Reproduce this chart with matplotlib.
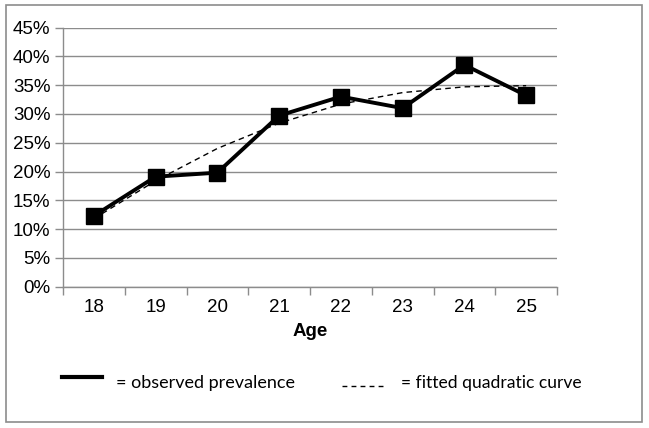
import matplotlib.pyplot as plt
from matplotlib.patches import Rectangle
from matplotlib.lines import Line2D
import numpy as np

## data
ages = [18, 19, 20, 21, 22, 23, 24, 25]
observed = [0.123, 0.191, 0.198, 0.297, 0.330, 0.310, 0.385, 0.332]
fitted = [0.118, 0.184, 0.240, 0.284, 0.317, 0.337, 0.347, 0.349]
yticks = [0, 0.05, 0.10, 0.15, 0.20, 0.25, 0.30, 0.35, 0.40, 0.45]

W, H = 649, 428
fig = plt.figure(figsize=(W / 100, H / 100), dpi=100)
ax = fig.add_axes([63 / W, 1 - 286.7 / H, (557 - 63) / W, (286.7 - 27.5) / H])

x = np.arange(len(ages))
ax.plot(x, fitted, color='black', lw=1.0, ls=(0, (4, 3)), zorder=3)
ax.plot(x, observed, color='black', lw=2.8, marker='s', markersize=11, zorder=4)

## Configure the axes (Excel look)
gray = '#8c8c8c'
ax.set_xlim(-0.5, len(ages) - 0.5)
ax.set_ylim(0, 0.45)
ax.set_yticks(yticks)
ax.set_yticklabels(['%d%%' % round(v * 100) for v in yticks],
                   fontsize=13.5, family='Liberation Sans')
ax.yaxis.grid(True, color=gray, lw=1)
ax.set_axisbelow(True)
ax.tick_params(axis='y', length=6, color=gray, width=1, pad=3)

ax.set_xticks(x)
ax.set_xticklabels([str(a) for a in ages], fontsize=13.5, family='Liberation Sans')
ax.set_xticks(np.arange(len(ages) + 1) - 0.5, minor=True)
ax.tick_params(axis='x', which='major', length=0, pad=9)
ax.tick_params(axis='x', which='minor', length=6, color=gray, width=1)
ax.set_xlabel('Age', fontsize=13.5, fontweight='bold', family='Liberation Sans', labelpad=5)

for s in ['top', 'right']:
    ax.spines[s].set_visible(False)
for s in ['left', 'bottom']:
    ax.spines[s].set_color(gray)
    ax.spines[s].set_linewidth(1)

## hand-made legend below the chart
fig.add_artist(Line2D([62 / W, 102 / W], [1 - 377 / H] * 2, color='black', lw=3))
fig.text(116 / W, 1 - 383 / H, '= observed prevalence', fontsize=13, family='Lato',
         va='center', ha='left')
fig.add_artist(Line2D([342 / W, 383 / W], [1 - 386 / H] * 2, color='black', lw=1,
                      ls=(0, (3.5, 3))))
fig.text(401 / W, 1 - 383 / H, '= fitted quadratic curve', fontsize=12.6, family='Lato',
         va='center', ha='left')

## outer chart border
fig.add_artist(Rectangle((6 / W, 1 - 422 / H), 636 / W, 417 / H, fill=False,
                         edgecolor=gray, lw=1.2, transform=fig.transFigure))

fig.savefig('out.png', dpi=100)
